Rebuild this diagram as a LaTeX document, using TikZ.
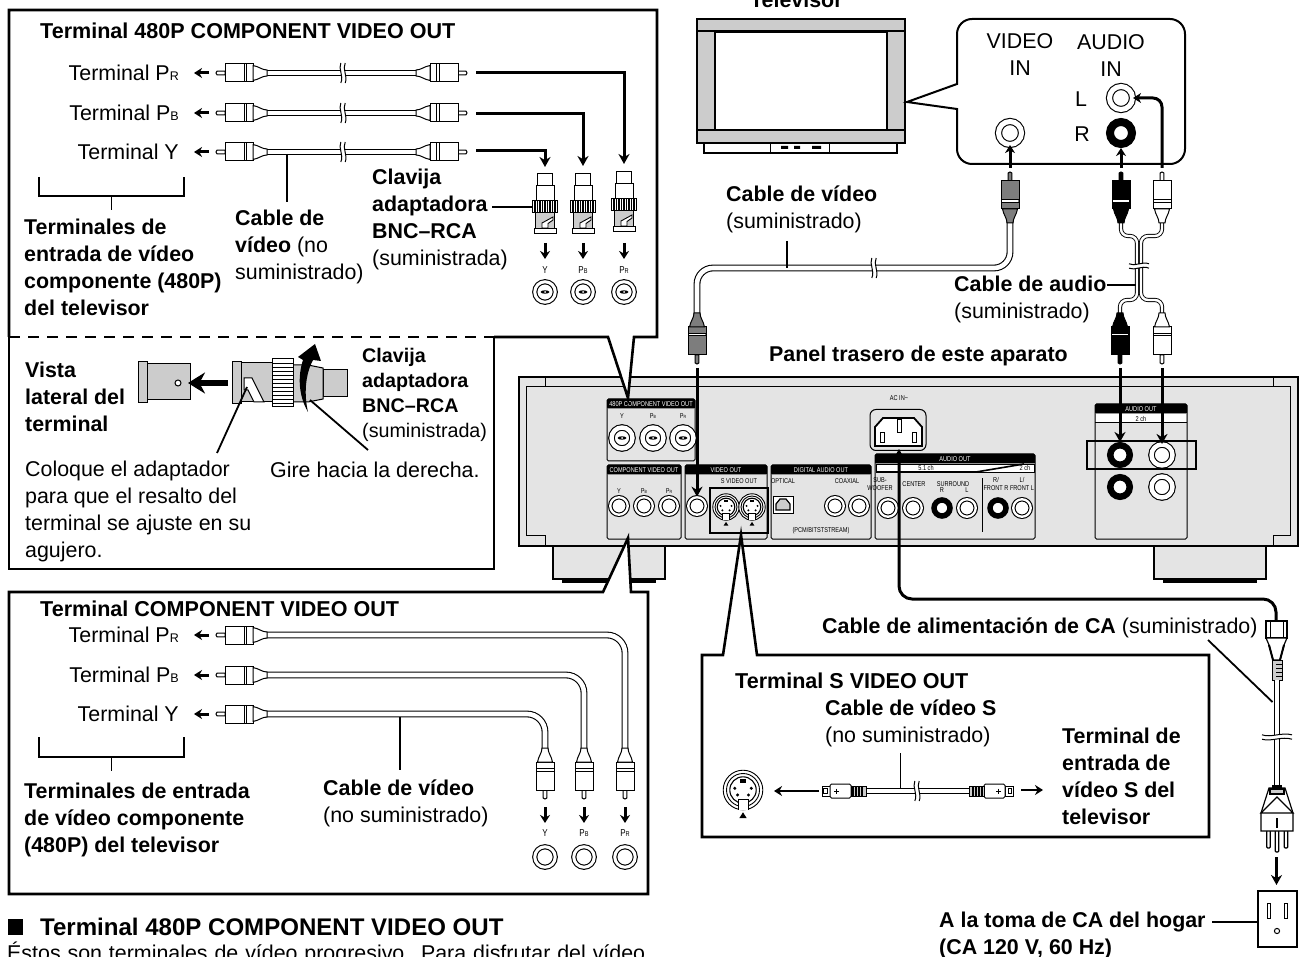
\documentclass[tikz,border=0pt]{standalone}
\usepackage{fontspec}
\setmainfont{Liberation Sans}
\newfontfamily\chica[FakeStretch=0.8]{Liberation Sans}
\usetikzlibrary{arrows.meta, positioning, calc}
\definecolor{grisaparato}{RGB}{228,228,228}
\definecolor{gristv}{RGB}{204,204,204}
\definecolor{grisvideo}{RGB}{125,125,125}
\tikzset{
    texto/.style={font=\fontsize{21.4}{27}\selectfont, inner sep=0pt, align=left, anchor=west},
    rotulo/.style={font=\fontsize{21.4}{27}\selectfont\bfseries, inner sep=0pt, align=left, anchor=west},
    titulo/.style={font=\fontsize{21.55}{27}\selectfont\bfseries, inner sep=0pt, anchor=west},
    chico/.style={font=\chica\fontsize{7}{7.5}\selectfont, inner sep=0pt, align=center},
    marco/.style={line width=2.6pt, fill=white},
    flecha/.style={line width=3pt, -{Stealth[length=10pt,width=11pt]}},
    flechita/.style={line width=3pt, -{Stealth[length=8pt,width=10pt]}},
    guia/.style={line width=1.8pt},
    cable/.style={double=white, double distance=4.6pt, line width=1.1pt},
    cablefino/.style={double=white, double distance=2.4pt, line width=0.9pt},
    jack/.style={circle, draw, double, line width=1.1pt, double distance=3pt, fill=white, minimum size=20.5pt, inner sep=0pt},
    jackpanel/.style={circle, draw, double, line width=1.1pt, double distance=2.3pt, fill=white, minimum size=17.5pt, inner sep=0pt},
    jacknegro/.style={circle, draw, line width=6.5pt, fill=white, minimum size=19.5pt, inner sep=0pt},
    jackgrande/.style={circle, draw, double, line width=1.1pt, double distance=5pt, fill=white, minimum size=23pt, inner sep=0pt},
}
\newcommand{\indice}[2][12.5]{{\fontsize{#1}{#1}\selectfont #2}}
% clavija RCA, punta en (#1,#2)
\newcommand{\clavija}[4]{
    \begin{scope}[shift={(#1,#2)}, rotate=#3, line width=1pt]
        \draw[fill=#4] (0,-1.8) -- (8,-1.8) -- (8,1.8) -- (0,1.8) to[out=180,in=180] cycle;
        \draw[fill=#4] (8,-9) rectangle (36,9);
        \fill[white] (27,-8.4) rectangle (29.6,8.4);
        \draw (27,-9) -- (27,9) (29.6,-9) -- (29.6,9);
        \draw[fill=#4] (36,-7.5) .. controls (42,-6.5) and (45,-3) .. (50,-3) -- (50,3) .. controls (45,3) and (42,6.5) .. (36,7.5) -- cycle;
    \end{scope}
}
% corte del cable
\newcommand{\corte}[4][1]{
    \begin{scope}[shift={(#2,#3)}, rotate=#4, yscale=#1]
        \fill[white] (-2.2,-6.5) rectangle (2.2,6.5);
        \draw[line width=1pt] (-2.2,-10) .. controls (-5,-4) and (1,3) .. (-2.2,10);
        \draw[line width=1pt] (2.2,-10) .. controls (-1,-4) and (5,3) .. (2.2,10);
    \end{scope}
}
% adaptador BNC visto de pie
\newcommand{\adaptador}[2]{
    \begin{scope}[shift={(#1,#2)}, line width=0.9pt]
        \draw[fill=white] (-7.5,0) rectangle (7.5,12);
        \draw[fill=white] (-9,12) rectangle (9,27.7);
        \draw[fill=gristv] (-9.7,39) rectangle (9.7,55);
        \draw[fill=white] (-3,55) -- (-3,50) -- (8,44) -- (8,47) -- (3,50.5) -- (3,55) -- cycle;
        \draw[fill=white] (-11,55) rectangle (11,60);
        \draw[fill=white] (-12.5,27.7) rectangle (12.5,39);
        \foreach \k in {-10,-7.5,...,10} {
            \draw[line width=1.1pt] (\k,27.7) -- (\k,39);
        }
    \end{scope}
}
% marca central del jack BNC
\newcommand{\marcabnc}[2]{
    \fill (#1,#2) ellipse (4.5 and 1.7);
    \fill[white] (#1,#2) circle (1);
}
% jack de S-video
\newcommand{\svideo}[3]{
    \begin{scope}[shift={(#1,#2)}, scale=#3, line width=0.9pt]
        \draw[fill=white] (0,0) circle (12);
        \draw (0,0) circle (10);
        \draw[line width=1.1pt] (0,0) circle (8);
        \fill (-3.3,3) circle (1) (3.3,3) circle (1) (-5,-1) circle (1) (5,-1) circle (1);
        \fill (-1.8,-6.5) rectangle (1.8,-4.5);
        \draw[fill=white] (-3,12) -- (-3,6) -- (3,6) -- (3,12);
        \fill (0,13.5) -- (2.2,17) -- (-2.2,17) -- cycle;
    \end{scope}
}
% bloque de terminales del panel
\newcommand{\bloque}[6]{
    \draw[line width=1pt, rounded corners=1.5pt] (#2,#4) rectangle (#3,#5);
    \fill[rounded corners=1pt] (#2,#4) rectangle (#3,#4+9.5);
    \node[chico, text=white] (#1) at ($(#2,#4+5)!0.5!(#3,#4+5)$) {#6};
}

\begin{document}
\begin{tikzpicture}[x=1pt, y=-1pt]
    \useasboundingbox (0,0) rectangle (1299,957);

    % patas y cuerpo del aparato
    \foreach \x in {553,1154} {
        \draw[line width=2.4pt, fill=grisaparato] (\x,546) -- (\x,579) -- (\x+112,579) -- (\x+112,546);
        \draw[line width=3pt] (\x+9,581) -- (\x+103,581);
    }
    \draw[line width=2.6pt, fill=grisaparato] (519,377) rectangle (1298,546);
    \draw[line width=1pt] (545,377) -- (545,387) (1273,377) -- (1273,387);
    \draw[line width=1pt] (545,546) -- (545,535) -- (526,535) -- (526,387) -- (1290,387) -- (1290,535) -- (1273,535) -- (1273,546);

    % bloques del panel trasero
    \bloque{b480}{607}{695}{399}{461}{480P COMPONENT VIDEO OUT}
    \bloque{bcomp}{607}{681}{465}{539}{COMPONENT VIDEO OUT}
    \bloque{bvideo}{685}{767}{465}{539}{VIDEO OUT}
    \bloque{bdigital}{771}{871}{465}{539}{DIGITAL AUDIO OUT}
    \bloque{baudio}{875}{1035}{454}{539}{AUDIO OUT}
    \bloque{baudiodos}{1095}{1187}{404}{539}{AUDIO OUT}
    \draw[line width=0.8pt, fill=white] (876,464) rectangle (1034,472);
    \draw[line width=1.6pt] (876,472) -- (976,472) -- (1024,464);
    \fill[white] (1096,414) rectangle (1186,423);
    \draw[line width=1pt] (1095,423) -- (1187,423);
    \node[chico] (cincoch) at (926,468) {5.1 ch};
    \node[chico] (dosch) at (1025,468) {2 ch};
    \node[chico] (dosaudio) at (1141,418.5) {2 ch};
    \draw[line width=1pt] (982.5,478) -- (982.5,532);

    % terminales del panel trasero
    \foreach \x/\t in {622/Y,653/{P\indice[4.5]{B}},683/{P\indice[4.5]{R}}} {
        \node[chico] (lbl\x) at (\x,416) {\t};
        \node[jack, minimum size=21pt, double distance=4.4pt] (bnc\x) at (\x,438) {};
        \marcabnc{\x}{438}
    }
    \foreach \x/\t in {619/Y,644/{P\indice[4.5]{B}},669/{P\indice[4.5]{R}}} {
        \node[chico] (lblc\x) at (\x,491) {\t};
        \node[jackpanel] (comp\x) at (\x,506) {};
    }
    \node[jackpanel] (vout) at (697,506) {};
    \node[chico] (rotsv) at (739,481) {S VIDEO OUT};
    \svideo{726}{507}{1.1}
    \svideo{752}{507}{1.1}
    \draw[line width=2.6pt] (710,488) rectangle (768,533);
    \node[chico] (rotopt) at (783,481) {OPTICAL};
    \draw[line width=1pt, fill=white] (773,496) rectangle (793,513);
    \draw[line width=1.2pt, fill=gristv] (780,499) -- (786,499) -- (790,504) -- (790,510) -- (776,510) -- (776,504) -- cycle;
    \node[chico] (rotcoax) at (847,481) {COAXIAL};
    \node[jackpanel] (coaxa) at (835,506) {};
    \node[jackpanel] (coaxb) at (859,506) {};
    \node[chico] (rotpcm) at (821,531) {(PCM/BITSTSTREAM)};
    \foreach \x/\t in {880/{SUB-\\WOOFER},914/CENTER,953/SURROUND,996/{R/\\FRONT R},1022/{L/\\FRONT L}} {
        \node[chico] (rota\x) at (\x,484) {\t};
    }
    \node[chico] (rotr) at (942,490) {R};
    \node[chico] (rotl) at (967,490) {L};
    \foreach \x in {888,913,967,1022} {
        \node[jackpanel] (aud\x) at (\x,508) {};
    }
    \foreach \x in {942,998} {
        \node[jacknegro, minimum size=16pt, line width=5.5pt] (aud\x) at (\x,508) {};
    }
    \node[jacknegro] (audr) at (1120,455) {};
    \node[jack, minimum size=21pt, double distance=4.4pt] (audl) at (1162,455) {};
    \node[jacknegro] (audrb) at (1120,487) {};
    \node[jack, minimum size=21pt, double distance=4.4pt] (audlb) at (1162,487) {};
    \draw[line width=2.6pt] (1087,441) rectangle (1196,469);

    % entrada de CA
    \node[chico] (rotac) at (899,398) {AC IN\textasciitilde};
    \node[draw, line width=1pt, rounded corners=6pt, minimum width=56pt, minimum height=41pt, inner sep=0pt] (entrada) at (898,430) {};
    \draw[line width=1.8pt, fill=white] (883,418) -- (914,418) -- (922,427) -- (922,446) -- (875,446) -- (875,427) -- cycle;
    \draw[line width=1pt] (897,420) rectangle (901,433) (880,433) rectangle (884,443) (912,433) rectangle (916,443);

    % panel 480P
    \draw[marco] (9,337) -- (9,10) -- (657,10) -- (657,337) -- (634,337) -- (628,398) -- (608,337) -- (494,337);
    \draw[line width=2.6pt, dash pattern=on 11pt off 8pt] (9,337) -- (494,337);
    \draw[line width=2.6pt] (9,337) -- (9,569) -- (494,569) -- (494,337);
    \node[titulo] (tit480) at (40,31) {Terminal 480P COMPONENT VIDEO OUT};
    \foreach \n/\y/\t in {pr/73/{Terminal P\indice{R}},pb/113/{Terminal P\indice{B}},yy/152/{Terminal Y}} {
        \node[texto, anchor=east] (t\n) at (179,\y) {\t};
        \coordinate (f\n) at (209,\y);
        \draw[flechita, shorten >=15pt] (f\n) -- (t\n.east);
        \draw[cable] (265,\y) -- (417,\y);
        \corte{343}{\y}{0}
        \clavija{217}{\y}{0}{white}
        \clavija{466}{\y}{180}{white}
    }
    % del cable a cada adaptador
    \foreach \n/\x/\y/\e in {pr/624/73/164,pb/583/114/166,yy/545/151/167} {
        \coordinate (sal\n) at (476,\y);
        \coordinate (lle\n) at (\x,\e);
        \draw[flecha] (sal\n) -| (lle\n);
    }
    \foreach \n/\x/\y/\t in {yy/545/173/Y,pb/583/173/{P\indice[7]{B}},pr/624/171/{P\indice[7]{R}}} {
        \adaptador{\x}{\y}
        \coordinate (baj\n) at (\x,243);
        \coordinate (fin\n) at (\x,259);
        \draw[flechita] (baj\n) -- (fin\n);
        \node[chico, font=\chica\fontsize{10}{10}\selectfont] (rot\n) at (\x,270) {\t};
        \node[jack] (ent\n) at (\x,292) {};
        \marcabnc{\x}{292}
    }
    \node[rotulo] (clav) at (372,219.5) {Clavija\\adaptadora\\BNC–RCA\\{\mdseries (suministrada)}};
    \coordinate (clavfin) at (533,207);
    \draw[guia] (492,207) -- (clavfin);
    \draw[line width=2pt] (39,177) -- (39,196) -- (184,196) -- (184,177);
    \coordinate (llaved) at (111.5,196);
    \coordinate (llavee) at (111.5,210);
    \draw[line width=1.2pt] (llaved) -- (llavee);
    \node[rotulo] (tv480) at (24,267) {Terminales de\\entrada de vídeo\\componente (480P)\\del televisor};
    \coordinate (cab480) at (287,154);
    \coordinate (cab480b) at (287,202);
    \draw[guia] (cab480) -- (cab480b);
    \node[rotulo] (rotcab) at (235,246.5) {Cable de\\vídeo {\mdseries (no}\\{\mdseries suministrado)}};

    % vista lateral
    \node[rotulo] (vista) at (25,396.5) {Vista\\lateral del\\terminal};
    \draw[line width=1pt, fill=gristv] (147,364) rectangle (190,400);
    \draw[line width=1pt, fill=gristv] (138,362) rectangle (147,403);
    \draw[line width=1pt, fill=white] (178,383) circle (3);
    \coordinate (visa) at (228,383);
    \coordinate (visb) at (188,383);
    \draw[line width=6pt, -{Stealth[length=17pt,width=21pt]}] (visa) -- (visb);
    \draw[line width=1pt, fill=gristv] (323,370) rectangle (347,397);
    \draw[line width=1pt, fill=gristv] (293,365) -- (308,365) -- (323,368) -- (323,399) -- (308,402) -- (293,402) -- cycle;
    \draw[line width=1pt, fill=gristv] (241,363) rectangle (272,402);
    \draw[line width=1pt, fill=white] (244,378) -- (252,378) -- (264,402) -- (254,402) -- (248,390) -- (244,390) -- cycle;
    \draw[line width=1pt, fill=gristv] (232,362) rectangle (241,404);
    \draw[line width=1pt, fill=white] (272,359) rectangle (293,407);
    \foreach \k in {363,367,...,403} {
        \draw[line width=0.8pt] (272,\k) -- (293,\k);
    }
    \fill (308,412) .. controls (298,395) and (298,375) .. (303,360) -- (298,357) -- (315,344) -- (321,361) -- (313,360) .. controls (305,375) and (304,395) .. (308,412) -- cycle;
    \node[rotulo, font=\fontsize{19.7}{25}\selectfont\bfseries] (clavdos) at (362,395) {Clavija\\adaptadora\\BNC–RCA\\{\mdseries (suministrada)}};
    \node[texto] (gire) at (270,470) {Gire hacia la derecha.};
    \node[texto] (coloque) at (25,511) {Coloque el adaptador\\para que el resalto del\\terminal se ajuste en su\\agujero.};
    \coordinate (ranura) at (247,387);
    \coordinate (ranurab) at (217,453);
    \draw[guia] (ranurab) -- (ranura);
    \coordinate (giro) at (310,400);
    \coordinate (girob) at (368,450);
    \draw[guia] (girob) -- (giro);

    % panel COMPONENT
    \draw[marco] (9,592) -- (603,592) -- (628,538) -- (631,592) -- (648,592) -- (648,894) -- (9,894) -- cycle;
    \node[titulo] (titcomp) at (40,609) {Terminal COMPONENT VIDEO OUT};
    \foreach \n/\y/\x/\t in {pr/635/625/{Terminal P\indice{R}},pb/675/584/{Terminal P\indice{B}},yy/714/545/{Terminal Y}} {
        \node[texto, anchor=east] (c\n) at (179,\y) {\t};
        \coordinate (g\n) at (209,\y);
        \draw[flechita, shorten >=15pt] (g\n) -- (c\n.east);
        \draw[cable, rounded corners=18pt] (265,\y) -- (\x,\y) -- (\x,750);
        \clavija{217}{\y}{0}{white}
        \clavija{\x}{798}{90}{white}
        \coordinate (d\n) at (\x,807);
        \coordinate (h\n) at (\x,823);
        \draw[flechita] (d\n) -- (h\n);
        \node[jack] (j\n) at (\x,857) {};
    }
    \node[chico, font=\chica\fontsize{10}{10}\selectfont] (ryy) at (545,833) {Y};
    \node[chico, font=\chica\fontsize{10}{10}\selectfont] (rpb) at (584,833) {P\indice[7]{B}};
    \node[chico, font=\chica\fontsize{10}{10}\selectfont] (rpr) at (625,833) {P\indice[7]{R}};
    \draw[line width=2pt] (39,737) -- (39,757) -- (184,757) -- (184,737);
    \coordinate (llcompa) at (111.5,757);
    \coordinate (llcompb) at (111.5,771);
    \draw[line width=1.2pt] (llcompa) -- (llcompb);
    \node[rotulo] (tvcomp) at (24,819.5) {Terminales de entrada\\de vídeo componente\\(480P) del televisor};
    \coordinate (cabcompa) at (400,717);
    \coordinate (cabcompb) at (400,770);
    \draw[guia] (cabcompa) -- (cabcompb);
    \node[rotulo] (rotcabc) at (323,803.5) {Cable de vídeo\\{\mdseries (no suministrado)}};

    % parrafo final
    \fill (8,919) rectangle (23,935);
    \node[titulo, font=\fontsize{24.05}{27}\selectfont\bfseries] (titfin) at (40,927) {Terminal 480P COMPONENT VIDEO OUT};
    \node[texto] (parrafo) at (7,953) {\makebox[638pt][s]{Éstos son terminales de vídeo progresivo. Para disfrutar del vídeo}};

    % televisor
    \node[rotulo] (televisor) at (750,0) {Televisor};
    \draw[line width=1.4pt, fill=white] (704,143) rectangle (897,153);
    \draw[line width=1pt] (770,143) -- (770,153) (829,143) -- (829,153);
    \fill (781,146) rectangle (788,149) (794,146) rectangle (800,149) (812,146) rectangle (821,149);
    \draw[line width=2pt, fill=gristv] (697,19) rectangle (905,143);
    \draw[line width=2pt, fill=white] (715,32) rectangle (887,130);
    \draw[line width=1.6pt] (697,31) -- (905,31) (697,130) -- (905,130);

    % recuadro de entradas
    \draw[line width=2pt, fill=white] (907,102) -- (957,84) [rounded corners=15pt] -- (957,19) -- (1185,19) -- (1185,164) -- (957,164) [sharp corners] -- (957,109) -- cycle;
    \node[texto, anchor=center, align=center] (vidin) at (1020,54.5) {VIDEO\\IN};
    \node[texto, anchor=center, align=center] (audin) at (1111,55.5) {AUDIO\\IN};
    \node[texto, anchor=center] (rotlt) at (1081,99) {L};
    \node[texto, anchor=center] (rotrt) at (1082,134) {R};
    \node[jackgrande] (tvvid) at (1010,133) {};
    \node[jackgrande] (tvl) at (1121,98) {};
    \node[jacknegro, minimum size=22pt, line width=8pt] (tvr) at (1121,133) {};

    % cables de video y audio
    \draw[cable, rounded corners=16pt] (1010,220) -- (1010,268) -- (697,268) -- (697,316);
    \corte{874}{268}{0}
    \draw[cablefino, rounded corners=7pt] (1121,222) -- (1121,236) -- (1137,236) -- (1137,300) -- (1120,300) -- (1120,316);
    \draw[cablefino, rounded corners=7pt] (1162,222) -- (1162,236) -- (1141,236) -- (1141,300) -- (1162,300) -- (1162,316);
    \corte{1139}{266}{90}
    \clavija{1010}{173}{-90}{grisvideo}
    \clavija{1121}{173}{-90}{black}
    \clavija{1162}{173}{-90}{white}
    \clavija{697}{363}{90}{grisvideo}
    \clavija{1120}{363}{90}{black}
    \clavija{1162}{363}{90}{white}
    \coordinate (subev) at (1010,168);
    \draw[flechita] (subev) -- (tvvid);
    \coordinate (suber) at (1121,168);
    \draw[flechita] (suber) -- (tvr);
    \coordinate (subel) at (1162,168);
    \draw[flechita, rounded corners=9pt] (subel) |- (tvl);
    \coordinate (bajav) at (697,368);
    \draw[flecha] (bajav) -- (vout);
    \coordinate (bajar) at (1120,368);
    \draw[flecha] (bajar) -- (audr);
    \coordinate (bajal) at (1162,368);
    \draw[flecha] (bajal) -- (audl);
    \node[rotulo] (cabvid) at (726,209) {Cable de vídeo\\{\mdseries (suministrado)}};
    \coordinate (cabvida) at (787,241);
    \coordinate (cabvidb) at (787,268);
    \draw[guia] (cabvida) -- (cabvidb);
    \node[rotulo] (cabaud) at (954,299.5) {Cable de audio\\{\mdseries (suministrado)}};
    \coordinate (cabauda) at (1136,285);
    \draw[guia] (cabaud.north east |- cabauda) -- (cabauda);
    \node[rotulo] (panel) at (769,356) {Panel trasero de este aparato};

    % cable de CA
    \coordinate (cafin) at (1276,622);
    \coordinate (catoma) at (899,449);
    \draw[flecha, rounded corners=13pt] (cafin) -- ++(0,-23) -- ++(-377,0) -- (catoma);
    \node[rotulo] (cabca) at (822,628) {Cable de alimentación de CA {\mdseries (suministrado)}};
    % clavija IEC
    \draw[line width=1.2pt, fill=white] (1266,621) rectangle (1287,638);
    \draw[line width=1pt] (1270,621) -- (1270,638) (1283,621) -- (1283,638);
    \draw[line width=1.2pt, fill=white] (1266,638) -- (1287,638) -- (1284,645) -- (1280,660) -- (1273,660) -- (1269,645) -- cycle;
    \draw[line width=2pt] (1269,645) -- (1273,660) (1284,645) -- (1280,660);
    \draw[line width=1pt, fill=gristv] (1272,660) rectangle (1282,680);
    \foreach \k in {664,668,672,676} {
        \draw[line width=1pt] (1276,\k) -- (1282,\k);
    }
    \draw[cable, double distance=4.6pt] (1277,680) -- (1277,785);
    \corte[1.5]{1277}{737}{90}
    % clavija de pared
    \foreach \x/\f in {1268.5/848,1277/852,1286/848} {
        \draw[line width=1.2pt, fill=white, rounded corners=1pt] (\x-1.8,830) rectangle (\x+1.8,\f);
    }
    \draw[line width=1.2pt, fill=white] (1269,788) -- (1285,788) -- (1293,813) -- (1293,831) -- (1261,831) -- (1261,813) -- cycle;
    \draw[line width=1.2pt] (1261,813) -- (1277,797) -- (1293,813) -- cycle;
    \fill (1272,785) rectangle (1282,789);
    \draw[line width=1.2pt, fill=gristv] (1270,789) -- (1284,789) -- (1284,794) -- (1270,794) -- cycle;
    \draw[line width=1.2pt] (1277,818) -- (1277,828);
    \coordinate (cadetras) at (1208,640);
    \coordinate (cadelante) at (1272.5,702);
    \draw[guia] (cadetras) -- (cadelante);
    \coordinate (toma) at (1276.5,857);
    \coordinate (tomafin) at (1276.5,885);
    \draw[flecha] (toma) -- (tomafin);
    \node[draw, line width=1.2pt, fill=white, minimum width=39pt, minimum height=56pt, inner sep=0pt] (enchufe) at (1277.5,919) {};
    \draw[line width=1pt] (1267.5,903) rectangle (1270,918) (1284.5,903) rectangle (1287,918);
    \draw[line width=1pt] (1277,931) circle (2.6);
    \node[rotulo] (tomaca) at (939,935) {A la toma de CA del hogar\\(CA 120 V, 60 Hz)};
    \coordinate (tomaguia) at (1212,922);
    \draw[guia] (tomaguia) -- (enchufe.west |- tomaguia);

    % panel S VIDEO
    \draw[marco] (702,655) -- (723,655) -- (741,535) -- (757,655) -- (1209,655) -- (1209,837) -- (702,837) -- cycle;
    \node[titulo] (titsv) at (735,681) {Terminal S VIDEO OUT};
    \node[rotulo] (cabsv) at (825,723) {Cable de vídeo S\\{\mdseries (no suministrado)}};
    \node[rotulo] (tvsv) at (1062,776.5) {Terminal de\\entrada de\\vídeo S del\\televisor};
    \svideo{743}{790}{1.65}
    \coordinate (svsal) at (819,791);
    \coordinate (svlle) at (774,791);
    \draw[flechita, line width=2.4pt] (svsal) -- (svlle);
    \draw[cable, double distance=4.6pt] (865,791) -- (970,791);
    \corte{917}{791}{0}
    \foreach \x/\s in {822/1,1013/-1} {
        \begin{scope}[shift={(\x,791)}, xscale=\s, line width=1pt]
            \draw[fill=white] (0,-5) rectangle (8,5);
            \draw[fill=white, rounded corners=1.5pt] (8,-7) rectangle (29,7);
            \draw (1.5,-2.5) rectangle (5,2.5);
            \draw (12,0) -- (17,0) (14.5,-2.5) -- (14.5,2.5);
            \draw[fill=gristv] (29,-5) rectangle (44,5);
            \foreach \k in {31,34,37,40} {
                \draw[line width=1.2pt] (\k,-5) -- (\k,5);
            }
        \end{scope}
    }
    \coordinate (svder) at (1021,790);
    \coordinate (svfin) at (1043,790);
    \draw[flechita, line width=2.4pt] (svder) -- (svfin);
    \coordinate (svguia) at (900.5,753);
    \coordinate (svguiab) at (900.5,788);
    \draw[guia] (svguia) -- (svguiab);
\end{tikzpicture}
\end{document}
